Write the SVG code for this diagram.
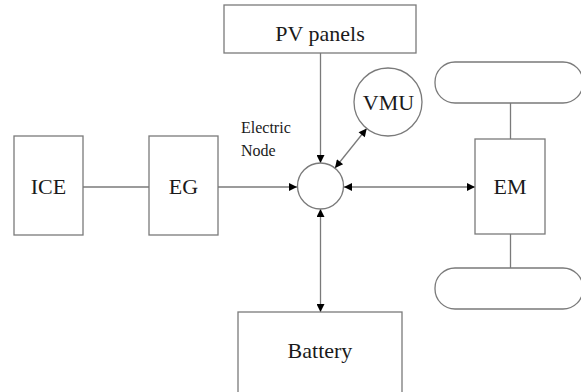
<svg xmlns="http://www.w3.org/2000/svg" width="581" height="392" viewBox="0 0 581 392">
<style>
.box{fill:#fff;stroke:#7a7a7a;stroke-width:1.3}
.lbl{font-family:Liberation Serif, DejaVu Serif, serif;font-size:22px;fill:#1a1a1a;text-anchor:middle}
.sm{font-family:Liberation Serif, DejaVu Serif, serif;font-size:16px;fill:#1a1a1a}
.ln{fill:none;stroke:#7a7a7a;stroke-width:1.3}
</style>
<defs>
<marker id="ah" viewBox="0 0 10 10" refX="10" refY="5" markerWidth="10" markerHeight="8" markerUnits="userSpaceOnUse" orient="auto-start-reverse">
<path d="M0,0 L10,5 L0,10 z" fill="#000"/>
</marker>
</defs>
<rect width="581" height="392" fill="#fff"/>
<g id="connectors">
<line class="ln" x1="83" y1="187" x2="149" y2="187"/>
<line class="ln" x1="218" y1="187" x2="297" y2="187" marker-end="url(#ah)"/>
<line class="ln" x1="320.5" y1="53" x2="320.5" y2="163" marker-end="url(#ah)"/>
<line class="ln" x1="344" y1="187" x2="475" y2="187" marker-start="url(#ah)" marker-end="url(#ah)"/>
<line class="ln" x1="320.5" y1="209" x2="320.5" y2="312" marker-start="url(#ah)" marker-end="url(#ah)"/>
<line class="ln" x1="335" y1="168" x2="366.7" y2="128.5" marker-start="url(#ah)" marker-end="url(#ah)"/>
<line class="ln" x1="510.5" y1="103" x2="510.5" y2="139"/>
<line class="ln" x1="510.5" y1="234" x2="510.5" y2="268"/>
</g>
<g id="pv">
<rect class="box" x="224" y="5" width="192" height="48"/>
<text class="lbl" x="320" y="41">PV panels</text>
</g>
<g id="vmu">
<circle class="box" cx="388" cy="102" r="34"/>
<text class="lbl" x="388.5" y="110">VMU</text>
</g>
<g id="node">
<circle class="box" cx="320.5" cy="186" r="23"/>
<text class="sm" x="241" y="133">Electric</text>
<text class="sm" x="241" y="156">Node</text>
</g>
<g id="ice">
<rect class="box" x="14" y="136" width="69" height="99"/>
<text class="lbl" x="48.5" y="194">ICE</text>
</g>
<g id="eg">
<rect class="box" x="149" y="136" width="69" height="99"/>
<text class="lbl" x="183.5" y="194">EG</text>
</g>
<g id="em">
<rect class="box" x="475" y="139" width="70" height="95"/>
<text class="lbl" x="510" y="194">EM</text>
</g>
<g id="wheel-top">
<rect class="box" x="435" y="62" width="148" height="41" rx="20" ry="20"/>
</g>
<g id="wheel-bottom">
<rect class="box" x="435" y="268" width="148" height="41" rx="20" ry="20"/>
</g>
<g id="battery">
<rect class="box" x="238" y="312" width="164" height="90"/>
<text class="lbl" x="320" y="358">Battery</text>
</g>
</svg>
